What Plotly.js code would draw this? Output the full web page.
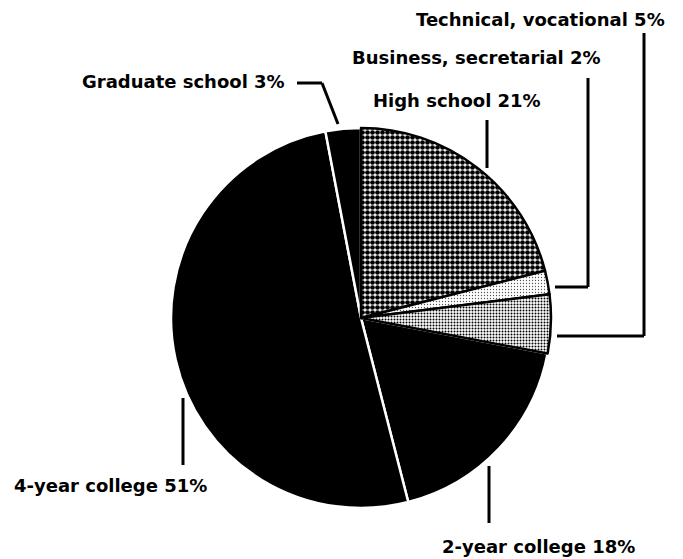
<!DOCTYPE html>
<html>
<head>
<meta charset="utf-8">
<script src="https://cdn.plot.ly/plotly-3.0.1.min.js"></script>
<style>html,body{margin:0;padding:0;background:#fff;}#chart{width:683px;height:559px;}</style>
</head>
<body>
<div id="chart"></div>
<script>
// Data (slice order chosen so drawing order keeps the right edges on top)
var categories = ["2-year college", "4-year college", "Graduate school", "High school", "Business, secretarial", "Technical, vocational"];
var percents = [18, 51, 3, 21, 2, 5];
var labelTexts = ["2-year college 18%", "4-year college 51%", "Graduate school 3%", "High school 21%", "Business, secretarial 2%", "Technical, vocational 5%"];

var W = 683, H = 559;
function px(x){ return x / W; }
function py(y){ return 1 - y / H; }

var trace = {
  type: 'pie',
  labels: categories,
  values: percents,
  sort: false,
  direction: 'clockwise',
  rotation: 100.8,
  textinfo: 'none',
  hoverinfo: 'label+percent',
  showlegend: false,
  domain: {x: [px(171), px(551)], y: [py(508), py(128)]},
  marker: {
    colors: ['#000000', '#000000', '#000000', '#ffffff', '#ffffff', '#ffffff'],
    line: {color: ['#ffffff', '#ffffff', '#ffffff', '#000000', '#000000', '#000000'], width: 2.5},
    pattern: {
      shape: ['', '', '', '.', '.', '.'],
      fgcolor: ['#000000', '#000000', '#000000', '#000000', '#555555', '#000000'],
      bgcolor: ['#000000', '#000000', '#000000', '#ffffff', '#ffffff', '#ffffff'],
      size: [6, 6, 6, 5, 3, 3],
      solidity: [0.5, 0.5, 0.5, 0.7, 0.15, 0.35],
      fillmode: 'replace'
    }
  }
};

var font = {family: 'DejaVu Sans', size: 18, color: '#000'};
function ann(text, x, y, xanchor){
  return {text: '<b>' + text + '</b>', x: px(x), y: py(y), xref: 'paper', yref: 'paper',
          xanchor: xanchor, yanchor: 'middle', showarrow: false, font: font};
}
var annotations = [
  ann(labelTexts[5], 667, 19, 'right'),
  ann(labelTexts[4], 603, 57, 'right'),
  ann(labelTexts[3], 543, 100, 'right'),
  ann(labelTexts[2], 287, 82, 'right'),
  ann(labelTexts[1], 12, 485, 'left'),
  ann(labelTexts[0], 637, 546, 'right')
];

function seg(x0, y0, x1, y1){
  return {type: 'line', xref: 'paper', yref: 'paper', x0: px(x0), y0: py(y0), x1: px(x1), y1: py(y1),
          line: {color: '#000', width: 3}};
}
var shapes = [
  seg(297, 83, 322, 83), seg(322, 83, 338, 124),
  seg(487, 120, 487, 168),
  seg(588, 78, 588, 287), seg(588, 287, 555, 287),
  seg(644, 33, 644, 336), seg(644, 336, 557, 336),
  seg(183, 398, 183, 465),
  seg(489, 466, 489, 523)
];

var layout = {
  width: W, height: H,
  margin: {l: 0, r: 0, t: 0, b: 0},
  paper_bgcolor: '#ffffff',
  plot_bgcolor: '#ffffff',
  annotations: annotations,
  shapes: shapes
};

Plotly.newPlot('chart', [trace], layout, {displayModeBar: false, staticPlot: true});
</script>
</body>
</html>
